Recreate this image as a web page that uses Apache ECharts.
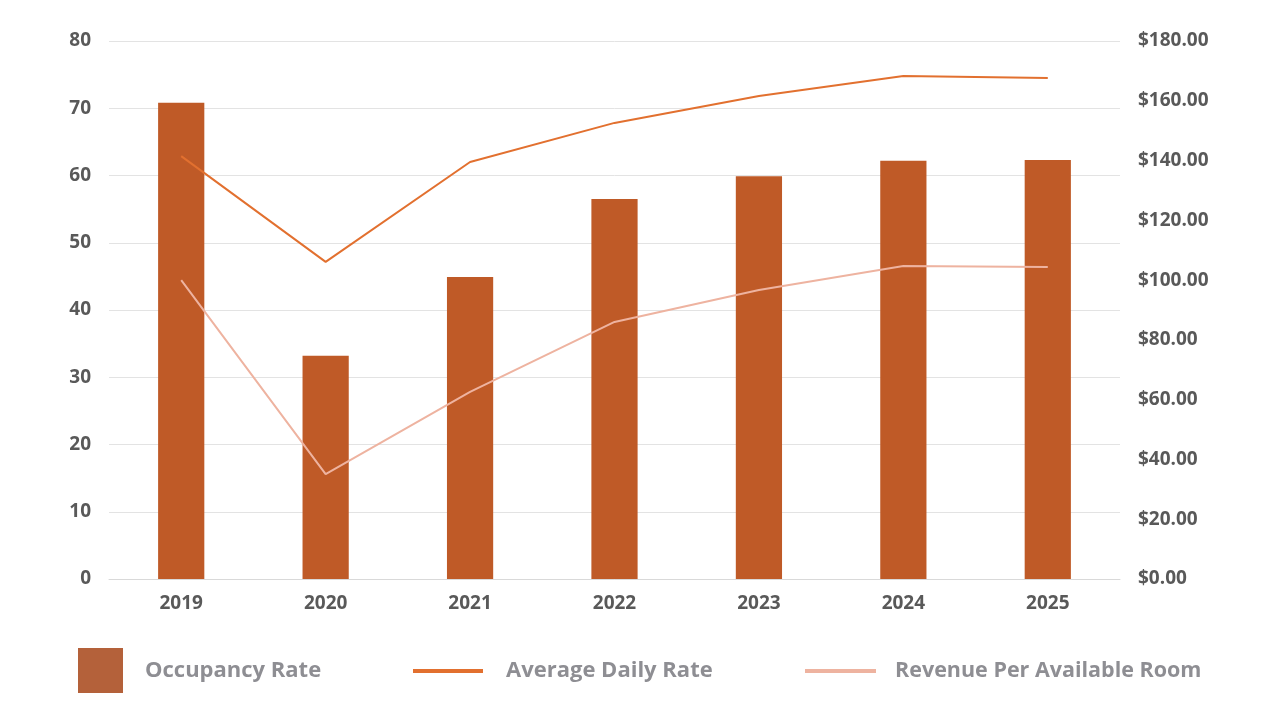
<!DOCTYPE html>
<html><head><meta charset="utf-8">
<script src="https://cdn.jsdelivr.net/npm/echarts@6/dist/echarts.min.js"></script>
<style>html,body{margin:0;padding:0;background:#fff}#c{width:1280px;height:720px}</style>
</head><body><div id="c"></div>
<script>
const years = ['2019','2020','2021','2022','2023','2024','2025'];
const occupancyRate = [70.8, 33.2, 44.9, 56.5, 59.9, 62.2, 62.3];
const averageDailyRate = [141.5, 106.1, 139.5, 152.6, 161.6, 168.3, 167.6];
const revPAR = [100.0, 35.1, 62.6, 86.0, 96.7, 104.7, 104.4];
const seriesNames = ['Occupancy Rate','Average Daily Rate','Revenue Per Available Room'];

const chart = echarts.init(document.getElementById('c'));
const axisFont = {color:'#595959', fontSize:19, fontWeight:'bold', fontFamily:'"Open Sans", sans-serif'};
const legText = {color:'#8e8e93', fontSize:22, fontWeight:'bold', fontFamily:'"Open Sans", sans-serif', padding:[0,0,0,17]};
chart.setOption({
  animation:false,
  grid:{left:109, right:160, top:41, bottom:141},
  legend:[
    {data:[{name:seriesNames[0], icon:'rect', itemStyle:{color:'#B4613A'}}], left:78, top:648, padding:0, itemWidth:45, itemHeight:45, textStyle:legText},
    {data:[{name:seriesNames[1], icon:'rect'}], left:413, top:660, padding:0, itemWidth:70, itemHeight:4, textStyle:Object.assign({},legText,{padding:[0,0,0,18]})},
    {data:[{name:seriesNames[2], icon:'rect'}], left:805, top:660, padding:0, itemWidth:71, itemHeight:4, textStyle:Object.assign({},legText,{padding:[0,0,0,14], fontSize:21.5})}
  ],
  xAxis:{type:'category', data:years, axisTick:{show:false},
    axisLine:{lineStyle:{color:'#d9d9d9'}}, axisLabel:Object.assign({margin:15},axisFont)},
  yAxis:[
    {type:'value', min:0, max:80, interval:10, axisLine:{show:false}, axisTick:{show:false},
      splitLine:{lineStyle:{color:'#e3e3e3'}}, axisLabel:Object.assign({margin:18},axisFont)},
    {type:'value', min:0, max:180, interval:20, axisLine:{show:false}, axisTick:{show:false},
      splitLine:{show:false}, axisLabel:Object.assign({margin:18, formatter:v=>'$'+v.toFixed(2)},axisFont)}
  ],
  series:[
    {name:seriesNames[0], type:'bar', data:occupancyRate, barWidth:'32%',
      itemStyle:{color:'#BF5A27'}, emphasis:{disabled:true}},
    {name:seriesNames[1], type:'line', yAxisIndex:1, data:averageDailyRate, showSymbol:false, symbol:'none',
      itemStyle:{color:'#E2702F'}, lineStyle:{color:'#E2702F', width:2}},
    {name:seriesNames[2], type:'line', yAxisIndex:1, data:revPAR, showSymbol:false, symbol:'none',
      itemStyle:{color:'#EEB3A0'}, lineStyle:{color:'#EEB3A0', width:2}}
  ]
});
</script></body></html>
